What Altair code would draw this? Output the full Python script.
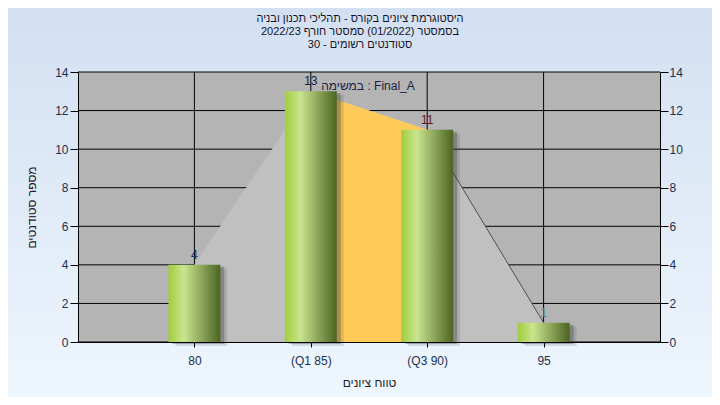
import altair as alt
import pandas as pd

# ---- data ----
categories = ["80", "(Q1 85)", "(Q3 90)", "95"]
counts = [4, 13, 11, 1]
label_colors = ["#1c2f5a", "#1c1c3c", "#6a1414", "#4f86a8"]
iqr_categories = ["(Q1 85)", "(Q3 90)"]
tail_categories = ["(Q3 90)", "95"]
y_ticks = [0, 2, 4, 6, 8, 10, 12, 14]
title_lines = [
    "היסטוגרמת ציונים בקורס - תהליכי תכנון ובניה",
    "בסמסטר  (01/2022)  סמסטר חורף 2022/23",
    "סטודנטים רשומים - 30",
]
x_title = "טווח ציונים"
y_title = "מספר סטודנטים"
legend_text = "במשימה : Final_A"

W, H = 582, 270
PAD_L, PAD_T, PAD_R, PAD_B = 70, 64, 52, 55
FONT = "Liberation Sans"
TXT = "#20304f"

df = pd.DataFrame({"cat": categories, "n": counts, "lc": label_colors})
df_iqr = df[df["cat"].isin(iqr_categories)]
df_tail = df[df["cat"].isin(tail_categories)]
df_ticks = pd.DataFrame({"v": y_ticks})

xscale = alt.Scale(type="point", domain=categories, padding=1)
yscale = alt.Scale(domain=[0, 14], nice=False, zero=True)

x_axis = alt.Axis(
    orient="bottom", title=x_title, tickSize=5, tickColor="black",
    domainColor="black", labelPadding=8, labelAngle=0, labelFontSize=12,
    labelFont=FONT, labelColor=TXT, titleFontSize=12, titleFont=FONT,
    titleFontWeight="normal", titleColor="#1c1c2c", titlePadding=11,
    grid=False, zindex=1,
)


def X():
    return alt.X("cat:N", sort=categories, scale=xscale, axis=x_axis)


def Y(field, axis=None):
    return alt.Y(field, scale=yscale, axis=axis)


bg = alt.Chart(alt.Data(values=[{}])).mark_rect(
    color=alt.Gradient(
        gradient="linear",
        stops=[alt.GradientStop(color="#d3e0f2", offset=0),
               alt.GradientStop(color="#eef6fd", offset=1)],
        x1=0, x2=0, y1=0, y2=1,
    )
).encode(
    x=alt.value(-PAD_L), x2=alt.value(W + PAD_R),
    y=alt.value(-PAD_T), y2=alt.value(H + PAD_B),
)

plot_bg = alt.Chart(alt.Data(values=[{}])).mark_rect(color="#b4b4b4").encode(
    x=alt.value(0), x2=alt.value(W), y=alt.value(0), y2=alt.value(H)
)

hgrid = alt.Chart(df_ticks).mark_rule(color="black", strokeWidth=1).encode(
    y=Y("v:Q", axis=alt.Axis(
        orient="right", values=y_ticks, title=None, tickSize=8, tickColor="black",
        domainColor="black", labelPadding=1, labelFontSize=12, labelFont=FONT,
        labelColor=TXT, grid=False, zindex=1,
    ))
)

vgrid = alt.Chart(df).mark_rule(color="black", strokeWidth=1).encode(x=X())

area_gray = alt.Chart(df).mark_area(color="#c0c0c0").encode(x=X(), y=Y("n:Q"))
area_iqr = alt.Chart(df_iqr).mark_area(color="#ffcb58").encode(x=X(), y=Y("n:Q"))
tail_line = alt.Chart(df_tail).mark_line(color="#505050", strokeWidth=1).encode(
    x=X(), y=Y("n:Q")
)

shadow2 = alt.Chart(df).mark_bar(size=52, color="#404040", opacity=0.15,
                                 xOffset=7, yOffset=4).encode(x=X(), y=Y("n:Q"))
shadow1 = alt.Chart(df).mark_bar(size=52, color="#404040", opacity=0.35,
                                 xOffset=4, yOffset=2).encode(x=X(), y=Y("n:Q"))

bars = alt.Chart(df).mark_bar(
    size=52,
    color=alt.Gradient(
        gradient="linear",
        stops=[alt.GradientStop(color="#a0cd3c", offset=0),
               alt.GradientStop(color="#c9e58f", offset=0.3),
               alt.GradientStop(color="#8ba358", offset=0.65),
               alt.GradientStop(color="#4b6522", offset=1)],
        x1=0, x2=1, y1=0, y2=0,
    ),
).encode(
    x=X(),
    y=Y("n:Q", axis=alt.Axis(
        orient="left", values=y_ticks, title=y_title, tickSize=8, tickColor="black",
        domainColor="black", labelPadding=2, labelFontSize=12, labelFont=FONT,
        labelColor=TXT, titleFontSize=12, titleFont=FONT, titleFontWeight="normal",
        titleColor="#1c1c2c", titlePadding=16, grid=False, zindex=1,
    )),
)

labels = alt.Chart(df).mark_text(dy=-10, fontSize=12, font=FONT).encode(
    x=X(), y=Y("n:Q"), text="n:Q", color=alt.Color("lc:N", scale=None)
)

legend = alt.Chart(alt.Data(values=[{}])).mark_text(
    fontSize=12, font=FONT, color="#202040"
).encode(x=alt.value(290), y=alt.value(14), text=alt.value(legend_text))

title = alt.Chart(alt.Data(values=[{}])).mark_text(
    fontSize=11, font=FONT, color="#14142a", lineHeight=13,
    align="center", baseline="top",
).encode(
    x=alt.value(282), y=alt.value(-59),
    text=alt.value(["\u202B" + t + "\u202C" for t in title_lines]),
)

chart = alt.layer(
    bg, plot_bg, hgrid, vgrid, area_gray, area_iqr, tail_line,
    shadow2, shadow1, bars, labels, legend, title,
).resolve_scale(y="independent").properties(
    width=W,
    height=H,
    autosize=alt.AutoSizeParams(type="none"),
    padding={"left": PAD_L, "top": PAD_T, "right": PAD_R, "bottom": PAD_B},
).configure_view(stroke=None).configure(background="#e0eaf6")

chart.save("out.html", embed_options={"renderer": "svg", "actions": False})
